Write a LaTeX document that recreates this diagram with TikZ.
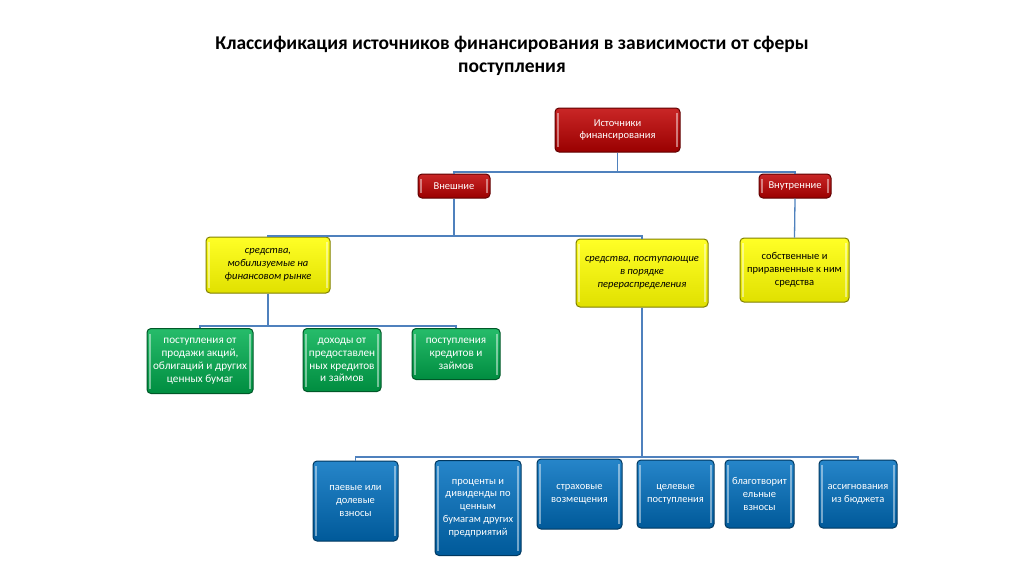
\documentclass[tikz,border=0pt]{standalone}
\usepackage{fontspec}
\setmainfont{Carlito}
\definecolor{finred}{HTML}{C00000}
\definecolor{finyellow}{HTML}{FFFF00}
\definecolor{fingreen}{HTML}{00B050}
\definecolor{finblue}{HTML}{0070C0}
\definecolor{finline}{HTML}{4F81BD}
\tikzset{fin line/.style={finline,line width=1.3pt}}
\tikzset{fin box/.style={rounded corners=4pt,line width=1pt,align=center,inner sep=1pt,
		font=\fontsize{10.5}{12.8}\selectfont,top color=#1!85!white,bottom color=#1!80!black,
		draw=#1!50!black,
		path picture={\draw[white,opacity=.45,line width=1.5pt]
			([xshift=3pt,yshift=-5pt]path picture bounding box.north west) --
			([xshift=3pt,yshift=5pt]path picture bounding box.south west);
			\draw[white,opacity=.45,line width=1.5pt]
			([xshift=-3pt,yshift=-5pt]path picture bounding box.north east) --
			([xshift=-3pt,yshift=5pt]path picture bounding box.south east);}},
		 fin box/.default=finblue}
\tikzset{red box/.style={fin box=finred,text=white},
		 yellow box/.style={fin box=finyellow,bottom color=finyellow!88!black,text=black,
		 	font=\fontsize{10.5}{12.8}\selectfont\itshape},
		 green box/.style={fin box=fingreen,text=white,font=\fontsize{11.2}{12.8}\selectfont},
		 blue box/.style={fin box=finblue,text=white},
		 box size/.style 2 args={minimum width=#1,minimum height=#2}}

\begin{document}
\begin{tikzpicture}[x=1pt,y=-1pt]
	\useasboundingbox (0,0) rectangle (1024,574);
	\node[align=center,font=\fontsize{19.5}{23}\selectfont\bfseries] (title) at (512,56)
		{Классификация источников финансирования в зависимости от сферы\\поступления};
	% niveles
	\node[red box,box size={125}{44}] (root) at (617.5,130) {Источники\\финансирования};
	\node[red box,box size={72}{24}] (ext) at (454,186) {Внешние};
	\node[red box,box size={72}{24}] (int) at (795,186) {Внутренние};
	\node[yellow box,box size={124}{56}] (market) at (268,265) {средства,\\мобилизуемые на\\финансовом рынке};
	\node[yellow box,box size={132}{68}] (redis) at (642,273) {средства, поступающие\\в порядке\\перераспределения};
	\node[yellow box,box size={109}{64},font=\fontsize{10.5}{12.8}\selectfont] (own) at (794.5,270)
		{собственные и\\приравненные к ним\\средства};
	\node[green box,box size={106}{65}] (shares) at (200,361) {поступления от\\продажи акций,\\облигаций и других\\ценных бумаг};
	\node[green box,box size={78}{63}] (loansout) at (342,360) {доходы от\\предоставлен\\ных кредитов\\и займов};
	\node[green box,box size={88}{51}] (loansin) at (456,354) {поступления\\кредитов и\\займов};
	\node[blue box,box size={85}{80}] (fees) at (355.5,501) {паевые или\\долевые\\взносы};
	\node[blue box,box size={86}{95}] (divs) at (478,508) {проценты и\\дивиденды по\\ценным\\бумагам других\\предприятий};
	\node[blue box,box size={85}{70}] (insur) at (579.5,494) {страховые\\возмещения};
	\node[blue box,box size={77}{68}] (target) at (675.5,494) {целевые\\поступления};
	\node[blue box,box size={69}{68}] (charity) at (759.5,494) {благотворит\\ельные\\взносы};
	\node[blue box,box size={78}{68}] (budget) at (858,494) {ассигнования\\из бюджета};
	% conectores
	\coordinate (busA) at (617.5,172);
	\coordinate (busB) at (454,236);
	\coordinate (busC) at (268,326);
	\coordinate (busD) at (642,457);
	\draw[fin line] (root.south) -- (busA);
	\draw[fin line] (ext.north) |- (busA) -| (int.north);
	\draw[fin line] (ext.south) -- (busB);
	\draw[fin line] (market.north) |- (busB) -| (redis.north);
	\draw[fin line] (int.south) -- (own.north);
	\draw[fin line] (market.south) -- (busC);
	\draw[fin line] (shares.north) |- (busC) -| (loansin.north);
	\draw[fin line] (redis.south) -- (busD);
	\draw[fin line] (fees.north) |- (busD) -| (budget.north);
\end{tikzpicture}
\end{document}
